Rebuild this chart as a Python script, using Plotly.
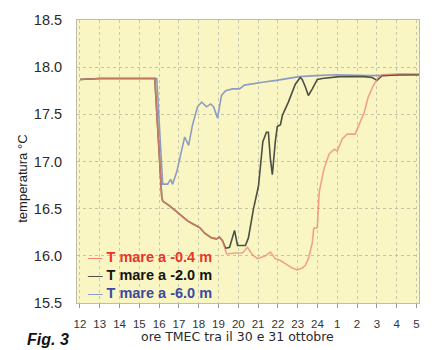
import plotly.graph_objects as go

# Sea temperature at three depths, hours (CET) between 30 and 31 October.
# Hours after midnight are continued as 25..29 on the axis.
hours_6m = [12, 13, 14, 15, 15.88, 16.18, 16.43, 16.58, 16.68, 16.89, 17.04, 17.29,
            17.49, 17.69, 17.94, 18.15, 18.40, 18.60, 18.75, 18.95, 19.15, 19.36,
            19.71, 20.06, 20.31, 20.56, 20.97, 21.22, 21.92, 22.43, 23.08, 23.94,
            24.95, 26.61, 28.12, 29.13]
temp_6m = [17.87, 17.88, 17.88, 17.88, 17.88, 16.76, 16.76, 16.81, 16.76, 16.89, 17.02,
           17.26, 17.17, 17.39, 17.58, 17.63, 17.58, 17.61, 17.58, 17.46, 17.70, 17.75,
           17.77, 17.77, 17.81, 17.82, 17.83, 17.84, 17.86, 17.88, 17.90, 17.91,
           17.92, 17.91, 17.92, 17.92]

hours_2m = [12, 13, 14, 15, 15.78, 16.13, 16.18, 16.53, 16.89, 17.14, 17.44, 17.69,
            18.05, 18.30, 18.65, 18.90, 19.05, 19.20, 19.36, 19.56, 19.81, 19.96,
            20.36, 20.51, 20.77, 21.02, 21.17, 21.24, 21.42, 21.52, 21.62, 21.72,
            21.87, 21.97, 22.13, 22.23, 22.53, 22.73, 22.88, 23.13, 23.23, 23.39,
            23.54, 23.74, 23.99, 24.24, 25.10, 26.36, 26.76, 27.01, 27.26, 28.12, 29.13]
temp_2m = [17.87, 17.88, 17.88, 17.88, 17.88, 16.63, 16.58, 16.53, 16.47, 16.42, 16.37,
           16.34, 16.30, 16.24, 16.19, 16.18, 16.20, 16.16, 16.08, 16.09, 16.27, 16.11,
           16.11, 16.19, 16.50, 16.74, 17.02, 17.21, 17.31, 17.31, 17.03, 16.86,
           17.21, 17.37, 17.39, 17.49, 17.63, 17.75, 17.82, 17.89, 17.87, 17.79,
           17.70, 17.77, 17.87, 17.88, 17.90, 17.90, 17.89, 17.86, 17.91, 17.92, 17.92]

hours_04m = [12, 13, 14, 15, 15.78, 16.13, 16.18, 16.53, 16.89, 17.14, 17.44, 17.69,
             18.05, 18.30, 18.65, 18.90, 19.05, 19.20, 19.41, 19.86, 20.21, 20.46,
             20.72, 20.97, 21.22, 21.37, 21.62, 21.87, 22.13, 22.38, 22.73, 22.98,
             23.23, 23.39, 23.54, 23.74, 23.81, 23.99, 24.09, 24.34, 24.59, 24.85,
             25.00, 25.25, 25.50, 25.90, 26.11, 26.36, 26.56, 26.81, 27.06, 27.26,
             28.12, 29.13]
temp_04m = [17.87, 17.88, 17.88, 17.88, 17.88, 16.63, 16.58, 16.53, 16.47, 16.42, 16.37,
            16.34, 16.30, 16.24, 16.19, 16.18, 16.20, 16.16, 16.02, 16.03, 16.03, 16.09,
            16.01, 15.97, 15.99, 16.00, 16.04, 15.97, 15.95, 15.92, 15.87, 15.85,
            15.87, 15.90, 15.97, 16.14, 16.29, 16.30, 16.68, 16.93, 17.08, 17.13,
            17.11, 17.24, 17.29, 17.29, 17.39, 17.52, 17.68, 17.80, 17.89, 17.92,
            17.93, 17.93]

tick_vals = list(range(12, 30))
tick_text = ["12", "13", "14", "15", "16", "17", "18", "19", "20", "21", "22", "23",
             "24", "1", "2", "3", "4", "5"]

legend_labels = ["T mare a -0.4 m", "T mare a -2.0 m", "T mare a -6.0 m"]
line_colors = ["#f0876f", "#4b5042", "#8d9cc2"]
text_colors = ["#e8352c", "#141414", "#3b4ba0"]

fig = go.Figure()
series = [(hours_6m, temp_6m, 2, 1.0), (hours_2m, temp_2m, 1, 1.0),
          (hours_04m, temp_04m, 0, 0.75)]
for hx, ty, k, op in series:
    fig.add_trace(go.Scatter(x=hx, y=ty, mode="lines", opacity=op,
                             line=dict(color=line_colors[k], width=1.6),
                             hoverinfo="skip", showlegend=False))

# In-plot legend, one coloured line per series
for k, lab in enumerate(legend_labels):
    fig.add_annotation(
        xref="paper", yref="paper", x=0.026, y=[0.162, 0.099, 0.036][k],
        xanchor="left", yanchor="middle", showarrow=False,
        text=f"<span style='color:{line_colors[k]}'>—</span> <b>{lab}</b>",
        font=dict(family="Liberation Sans, Arial, sans-serif", size=14.5,
                  color=text_colors[k]))

fig.add_annotation(
    xref="paper", yref="paper", x=-0.16, y=0.44, xanchor="center", yanchor="middle",
    textangle=-90, showarrow=False, text="temperatura °C",
    font=dict(family="Liberation Sans, Arial, sans-serif", size=13, color="#222"))

fig.add_annotation(
    xref="paper", yref="paper", x=0.47, y=-0.118, xanchor="center", yanchor="middle",
    showarrow=False, text="ore TMEC tra il 30 e 31 ottobre",
    font=dict(family="DejaVu Sans, sans-serif", size=12.5, color="#2a2a2a"))

fig.add_annotation(
    xref="paper", yref="paper", x=-0.153, y=-0.13, xanchor="left", yanchor="middle",
    showarrow=False, text="<b><i>Fig. 3</i></b>",
    font=dict(family="Liberation Sans Narrow, Liberation Sans, Arial, sans-serif",
              size=16, color="#111"))

fig.update_layout(
    width=432, height=350,
    margin=dict(l=77, r=12, t=17, b=47),
    paper_bgcolor="white", plot_bgcolor="#faf6c4",
    font=dict(family="Liberation Sans, Arial, sans-serif", color="#333"),
)
fig.update_xaxes(
    range=[11.85, 29.13], tickmode="array", tickvals=tick_vals, ticktext=tick_text,
    ticks="outside", ticklen=4, tickcolor="#999", ticklabelstandoff=6,
    tickfont=dict(size=11.5, color="#333"),
    showgrid=True, gridcolor="#c9c9ae", gridwidth=1, griddash="dot",
    showline=True, linecolor="#bdbdb0", mirror=True, zeroline=False,
)
fig.update_yaxes(
    range=[15.5, 18.5], tickmode="array", tickvals=[15.5, 16, 16.5, 17, 17.5, 18, 18.5],
    ticktext=["15.5", "16.0", "16.5", "17.0", "17.5", "18.0", "18.5"],
    tickfont=dict(size=14.5, color="#2a2a2a"), ticklabelstandoff=11,
    showgrid=True, gridcolor="#c3c3a6", gridwidth=1, griddash="dot",
    showline=True, linecolor="#bdbdb0", mirror=True, zeroline=False,
)

fig.write_html("out.html")
